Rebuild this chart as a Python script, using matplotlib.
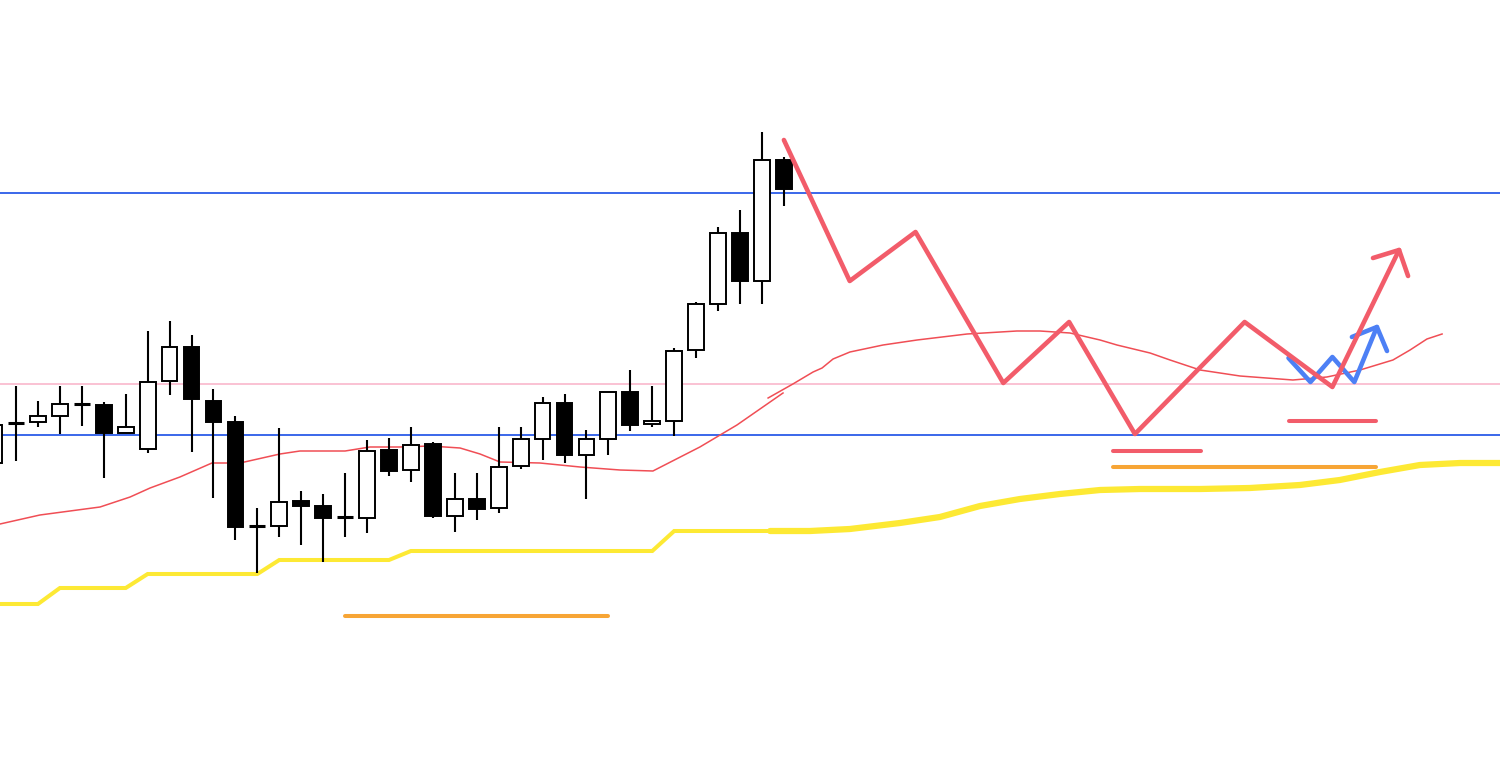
import numpy as np
import matplotlib
matplotlib.use('Agg')
import matplotlib.pyplot as plt
from matplotlib.patches import Rectangle

# candle data (index -1 is the partial candle on the left edge)
idx = list(range(-1, 36))
opens = [155.37, 155.77, 155.78, 155.84, 155.96, 155.95, 155.67, 155.51, 156.19, 156.53,
         155.99, 155.78, 154.74, 154.74, 154.99, 154.94, 154.83, 154.82, 155.50, 155.30,
         155.56, 154.84, 155.01, 154.92, 155.34, 155.61, 155.97, 155.45, 155.61, 156.08,
         155.76, 155.79, 156.50, 156.96, 157.67, 157.19, 158.40]
highs = [155.80, 156.14, 155.99, 156.14, 156.14, 155.98, 156.06, 156.69, 156.79, 156.65,
         156.11, 155.84, 154.92, 155.72, 155.09, 155.06, 155.27, 155.60, 155.62, 155.73,
         155.58, 155.27, 155.27, 155.73, 155.73, 156.03, 156.06, 155.70, 156.08, 156.30,
         156.14, 156.52, 156.98, 157.73, 157.90, 158.68, 158.43]
lows = [155.35, 155.39, 155.73, 155.66, 155.74, 155.22, 155.67, 155.47, 156.05, 155.48,
        155.02, 154.60, 154.27, 154.63, 154.55, 154.38, 154.63, 154.67, 155.24, 155.18,
        154.82, 154.68, 154.80, 154.87, 155.31, 155.40, 155.37, 155.01, 155.45, 155.69,
        155.73, 155.64, 156.42, 156.89, 156.96, 156.96, 157.94]
closes = [155.75, 155.77, 155.84, 155.96, 155.96, 155.67, 155.73, 156.18, 156.53, 156.01,
          155.78, 154.73, 154.74, 154.98, 154.94, 154.82, 154.83, 155.49, 155.29, 155.55,
          154.84, 155.01, 154.91, 155.33, 155.61, 155.97, 155.45, 155.61, 156.08, 155.75,
          155.79, 156.49, 156.96, 157.67, 157.19, 158.40, 158.11]

# moving average (two overlapping segments)
ma1_x = [-0.73, 1.09, 3.83, 5.2, 6.11, 7.47, 8.93, 10.21, 12.03, 12.94, 15.0, 16.13,
         17.5, 18.87, 20.24, 21.15, 22.06, 23.88, 25.71, 27.53, 29.03, 31.17, 32.86, 34.96]
ma1_y = [154.76, 154.85, 154.93, 155.03, 155.12, 155.23, 155.37, 155.37, 155.46, 155.49,
         155.49, 155.53, 155.53, 155.54, 155.52, 155.46, 155.38, 155.37, 155.33, 155.30,
         155.29, 155.53, 155.75, 156.07]
ma2_x = [34.28, 35.41, 36.33, 36.74, 37.24, 38.01, 39.52, 41.07, 43.35, 45.62, 46.67,
         48.04, 49.41, 50.18, 51.69, 52.6, 53.97, 55.79, 58.2, 59.75, 61.26, 62.76,
         63.54, 64.31, 65.0]
ma2_y = [156.02, 156.16, 156.28, 156.32, 156.41, 156.48, 156.55, 156.60, 156.66, 156.69,
         156.69, 156.67, 156.60, 156.55, 156.47, 156.40, 156.30, 156.24, 156.20, 156.23,
         156.30, 156.40, 156.50, 156.61, 156.66]

# higher timeframe line (yellow)
htf_x = [-0.73, 1, 2, 5, 6, 11, 12, 17, 18, 29, 30, 34.4]
htf_y = [153.96, 153.96, 154.12, 154.12, 154.26, 154.26, 154.40, 154.40, 154.49,
         154.49, 154.69, 154.69]
htf2_x = [34.37, 36.19, 38.01, 40.29, 42.11, 43.94, 45.76, 47.58, 49.41, 51.23, 53.97,
          56.24, 58.52, 60.34, 62.17, 63.99, 65.82, 67.64]
htf2_y = [154.69, 154.69, 154.71, 154.77, 154.83, 154.94, 155.01, 155.06, 155.10, 155.11,
          155.11, 155.12, 155.15, 155.20, 155.28, 155.35, 155.37, 155.37]

# horizontal levels
blue_levels = [158.07, 155.65]
pink_level = 156.16

# scenario drawings
red_zz_x = [35, 38, 41, 45, 48, 51, 56, 60, 63.04]
red_zz_y = [158.60, 157.19, 157.68, 156.17, 156.78, 155.66, 156.78, 156.13, 157.50]
red_head_x = [61.85, 63.04, 63.45]
red_head_y = [157.42, 157.50, 157.24]
blue_zz_x = [58, 59, 60, 61, 62.03]
blue_zz_y = [156.42, 156.18, 156.43, 156.18, 156.73]
blue_head_x = [60.89, 62.03, 62.49]
blue_head_y = [156.63, 156.73, 156.49]

orange_segs = [(15, 27, 153.84), (50, 62, 155.33)]
red_segs = [(50, 54, 155.49), (58, 62, 155.79)]

fig = plt.figure(figsize=(15, 7.64), dpi=100)
ax = fig.add_axes([0, 0, 1, 1])
ax.set_xlim(-0.73, 67.64)
ax.set_ylim(152.36, 160.0)
ax.axis('off')

# levels
for lv in blue_levels:
    ax.axhline(lv, color='#2b5ce8', lw=1.3, zorder=1)
ax.axhline(pink_level, color='#f9b8cc', lw=1.2, zorder=1)

# yellow line
ax.plot(htf_x, htf_y, color='#fde934', lw=2.9, zorder=2, solid_joinstyle='miter')
ax.plot(htf2_x, htf2_y, color='#fde934', lw=4.5, zorder=2, solid_capstyle='round')

# moving average
ax.plot(ma1_x, ma1_y, color='#f04e55', lw=1.1, zorder=2)
ax.plot(ma2_x, ma2_y, color='#f04e55', lw=1.1, zorder=2)

# candles
w = 0.72
for i, o, h, l, c in zip(idx, opens, highs, lows, closes):
    ax.plot([i, i], [l, h], color='black', lw=1.5, zorder=3, solid_capstyle='butt')
    bottom = min(o, c)
    height = abs(c - o)
    if height < 0.02:
        ax.plot([i - w / 2, i + w / 2], [o, o], color='black', lw=2.2, zorder=4,
                solid_capstyle='butt')
        continue
    face = 'white' if c > o else 'black'
    ax.add_patch(Rectangle((i - w / 2, bottom), w, height, facecolor=face,
                           edgecolor='black', lw=1.4, zorder=4))

# horizontal marker segments
for x0, x1, y in orange_segs:
    ax.plot([x0, x1], [y, y], color='#f7a535', lw=2.9, solid_capstyle='round', zorder=5)
for x0, x1, y in red_segs:
    ax.plot([x0, x1], [y, y], color='#f25c6a', lw=2.9, solid_capstyle='round', zorder=5)

# scenario zigzags
ax.plot(blue_zz_x, blue_zz_y, color='#4d80f5', lw=3.3, solid_capstyle='round', zorder=6)
ax.plot(blue_head_x, blue_head_y, color='#4d80f5', lw=3.3, solid_capstyle='round', zorder=6)
ax.plot(red_zz_x, red_zz_y, color='#f25c6a', lw=3.3, solid_capstyle='round', zorder=7)
ax.plot(red_head_x, red_head_y, color='#f25c6a', lw=3.3, solid_capstyle='round', zorder=7)

fig.savefig('out.png', dpi=100, facecolor='white')
